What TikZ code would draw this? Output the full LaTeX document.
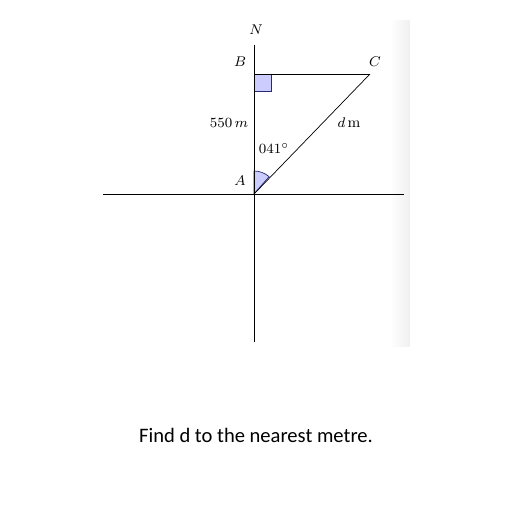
\documentclass[tikz,border=0pt]{standalone}
\usepackage{fontspec}
\newfontfamily\qfont{Carlito}
\usetikzlibrary{positioning}
\definecolor{markfill}{RGB}{204,204,255}
\definecolor{markline}{RGB}{40,40,120}
\begin{document}
\begin{tikzpicture}[
  x=0.02cm, y=-0.02cm,
  axis/.style={draw, line width=0.5pt},
  side/.style={draw, line width=0.4pt},
  anglemark/.style={fill=markfill, draw=markline, line width=0.4pt},
  lbl/.style={font=\fontsize{8.5}{10}\selectfont, inner sep=1pt}
]
\useasboundingbox (0,0) rectangle (512,512);
% faint shadow strip on the right
\shade[left color=white, right color=black!6] (390,20) rectangle (410,346);
% points
\coordinate (A) at (254,194);
\coordinate (B) at (254,74);
\coordinate (C) at (370,74);
\coordinate (top) at (254,45);
\coordinate (bot) at (254,342);
\coordinate (west) at (103,194);
\coordinate (east) at (404,194);
% markers
\filldraw[anglemark] (B) rectangle (271,91);
\filldraw[anglemark] (A) -- ++(0,-23) arc[start angle=-90, end angle=-49, radius=23] -- cycle;
% lines
\draw[axis] (top) -- (bot);
\draw[axis] (west) -- (east);
\draw[side] (B) -- (C);
\draw[side] (A) -- (C);
% labels
\node[lbl] (north) at (256,30) {$N$};
\node[lbl] (labB) at (240,62) {$B$};
\node[lbl] (labC) at (375,62) {$C$};
\node[lbl] (labA) at (240,181) {$A$};
\node[lbl] (len) at (229,123) {$550\,m$};
\node[lbl] (dist) at (349,123) {$d\,\mathrm{m}$};
\node[lbl] (bear) at (274,148) {$041^{\circ}$};
\node[font=\qfont\fontsize{11.7}{14}\selectfont] (task) at (256,435) {Find d to the nearest metre.};
\end{tikzpicture}
\end{document}
